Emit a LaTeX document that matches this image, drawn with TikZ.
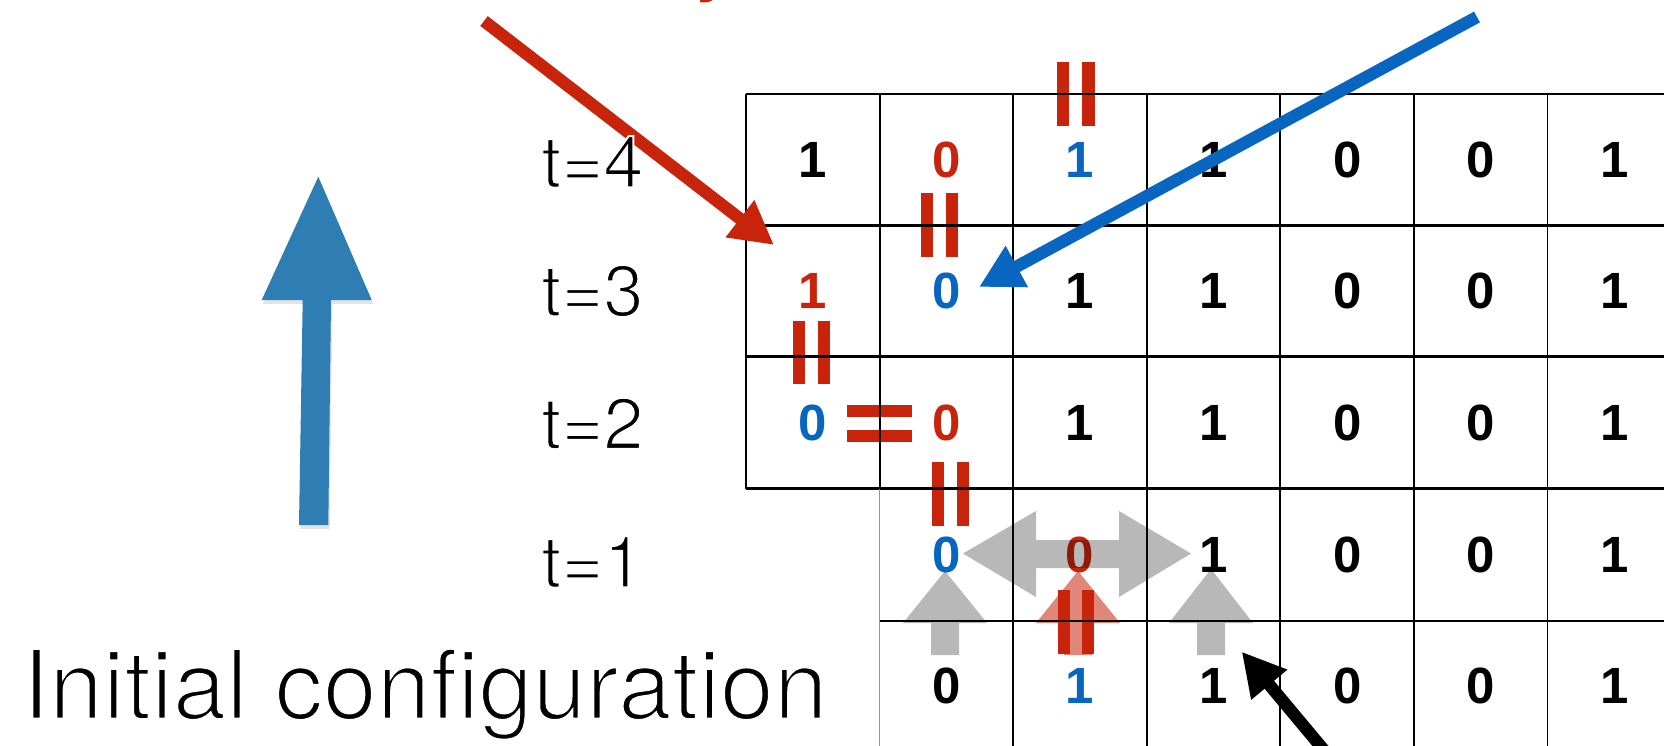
\documentclass[tikz,border=0pt]{standalone}
\usepackage{fontspec}
\setmainfont{TeX Gyre Heros}[Ligatures=NoCommon]
\newfontfamily\digitfont{Liberation Sans}
\usetikzlibrary{arrows.meta,shadows}
\definecolor{cred}{RGB}{200,36,12}
\definecolor{cblue}{RGB}{8,102,192}
\definecolor{steel}{RGB}{46,125,179}
\definecolor{lightline}{RGB}{90,165,215}
% thin the strokes of a text by outlining it in white
\newcommand\thinned[2]{\special{pdf:literal direct 2 Tr 1 1 1 RG #1 w}#2\special{pdf:literal direct 0 Tr}}
\begin{document}
\begin{tikzpicture}[x=0.02cm,y=-0.02cm,
  dig/.style={font=\digitfont\bfseries\fontsize{29}{29}\selectfont, inner sep=0pt, anchor=center},
  dred/.style={dig, text=cred},
  dblue/.style={dig, text=cblue},
  tlabel/.style={font=\fontsize{41}{41}\selectfont, inner sep=0pt, anchor=west},
  gridthick/.style={draw=black, line width=1.25pt},
  gridmid/.style={draw=black, line width=1.05pt},
  gridthin/.style={draw=black, line width=0.75pt},
  blueedge/.style={draw=lightline, line width=0.85pt},
  grayarrow/.style={fill=black, fill opacity=0.28},
  redarrowshape/.style={fill=cred, fill opacity=0.55},
  bar/.style={fill=cred},
  bigarrow/.style={line width=7pt, -{Triangle[length=24.5pt,width=25pt]}},
]
\useasboundingbox (0,0) rectangle (1664,745);

% ---- digits ----
% t=4
\node[dig]   (a1) at (812.9,160) {1};
\node[dred]  (a2) at (946.5,160) {0};
\node[dblue] (a3) at (1080,160) {1};
\node[dig]   (a4) at (1213.6,160) {1};
\node[dig]   (a5) at (1347.2,160) {0};
\node[dig]   (a6) at (1480.8,160) {0};
\node[dig]   (a7) at (1614.3,160) {1};
% t=3
\node[dred]  (b1) at (812.9,291) {1};
\node[dblue] (b2) at (946.5,291) {0};
\node[dig]   (b3) at (1080,291) {1};
\node[dig]   (b4) at (1213.6,291) {1};
\node[dig]   (b5) at (1347.2,291) {0};
\node[dig]   (b6) at (1480.8,291) {0};
\node[dig]   (b7) at (1614.3,291) {1};
% t=2
\node[dblue] (c1) at (812.9,422.5) {0};
\node[dred]  (c2) at (946.5,422.5) {0};
\node[dig]   (c3) at (1080,422.5) {1};
\node[dig]   (c4) at (1213.6,422.5) {1};
\node[dig]   (c5) at (1347.2,422.5) {0};
\node[dig]   (c6) at (1480.8,422.5) {0};
\node[dig]   (c7) at (1614.3,422.5) {1};
% t=1
\node[dblue] (d2) at (946.5,555) {0};
\node[dred]  (d3) at (1080,555) {0};
\node[dig]   (d4) at (1213.6,555) {1};
\node[dig]   (d5) at (1347.2,555) {0};
\node[dig]   (d6) at (1480.8,555) {0};
\node[dig]   (d7) at (1614.3,555) {1};
% initial
\node[dig]   (e2) at (946.5,686) {0};
\node[dblue] (e3) at (1080,686) {1};
\node[dig]   (e4) at (1213.6,686) {1};
\node[dig]   (e5) at (1347.2,686) {0};
\node[dig]   (e6) at (1480.8,686) {0};
\node[dig]   (e7) at (1614.3,686) {1};

% ---- translucent arrows in row t=1 ----
\fill[grayarrow] (963,553.5) -- (1036,511) -- (1036,540) -- (1119,540) -- (1119,511)
  -- (1191,553.5) -- (1119,597) -- (1119,568) -- (1036,568) -- (1036,597) -- cycle;
\fill[grayarrow] (945,571) -- (987,623) -- (959,623) -- (959,655) -- (931,655) -- (931,623) -- (903,623) -- cycle;
\fill[grayarrow] (1211,569) -- (1253,623) -- (1225,623) -- (1225,655) -- (1197,655) -- (1197,623) -- (1169,623) -- cycle;
\fill[redarrowshape] (1078,571) -- (1120,623) -- (1092,623) -- (1092,655) -- (1064,655) -- (1064,623) -- (1036,623) -- cycle;

% ---- red equality bars ----
\fill[bar] (1057,62) rectangle (1069,126);
\fill[bar] (1082,62) rectangle (1094.5,126);
\fill[bar] (921,193) rectangle (933,257);
\fill[bar] (946,193) rectangle (958,257);
\fill[bar] (793.3,320.7) rectangle (805,384);
\fill[bar] (818.3,320.7) rectangle (830,384);
\fill[bar] (847,405) rectangle (912,416.7);
\fill[bar] (847,430) rectangle (912,441.7);
\fill[bar] (932,462) rectangle (944,526);
\fill[bar] (957,462) rectangle (968.5,526);
\fill[bar] (1058,590) rectangle (1069.5,653.5);
\fill[bar] (1082,590) rectangle (1094,653.5);

% ---- grid ----
\draw[gridthick] (746,94) -- (1670,94);
\draw[gridthick] (746,225.5) -- (1670,225.5);
\draw[gridthick] (746,356.5) -- (1670,356.5);
\draw[gridthick] (746,488.5) -- (1670,488.5);
\draw[gridthin] (879.7,621) -- (1670,621);
\draw[gridthick] (746,94) -- (746,488.5);
\draw[gridmid] (879.7,94) -- (879.7,488.5);
\draw[blueedge] (879.7,488.5) -- (879.7,750);
\draw[gridmid] (1013.3,94) -- (1013.3,750);
\draw[gridmid] (1146.8,94) -- (1146.8,750);
\draw[gridmid] (1280.4,94) -- (1280.4,750);
\draw[gridmid] (1414,94) -- (1414,750);
\draw[gridmid] (1547.5,94) -- (1547.5,750);

% ---- big blue arrow on the left ----
\fill[steel, drop shadow={shadow xshift=0.8pt, shadow yshift=-2.2pt, opacity=0.22}]
  (318.3,176.7) -- (371.7,300) -- (331,300) -- (328.3,525) -- (299,525) -- (302.7,300) -- (261.7,300) -- cycle;

% ---- pointer arrows ----
\coordinate (rs) at (484,21);
\coordinate (rt) at (774,245);
\coordinate (bs) at (1477,17);
\coordinate (bt) at (979,287);
\coordinate (ks) at (1338,767);
\coordinate (kt) at (1241.7,651.7);
\draw[bigarrow, cred] (rs) -- (rt);
\draw[bigarrow, cblue] (bs) -- (bt);
\draw[bigarrow, black] (ks) -- (kt);

% ---- labels ----
\node[font=\fontsize{40}{40}\selectfont\bfseries, text=cred, inner sep=0pt, anchor=base west] (ytail) at (694,-13) {y};
\node[tlabel] (t4) at (541,162) {\thinned{1.15}{t=4}};
\node[tlabel] (t3) at (541,291) {\thinned{1.15}{t=3}};
\node[tlabel] (t2) at (541,423.5) {\thinned{1.15}{t=2}};
\node[tlabel] (t1) at (541,562) {\thinned{1.15}{t=1}};
\node[font=\fontsize{55}{55}\selectfont, inner sep=0pt, anchor=base west] (init) at (22,719) {\thinned{1.6}{Initial configuration}};
\end{tikzpicture}
\end{document}
